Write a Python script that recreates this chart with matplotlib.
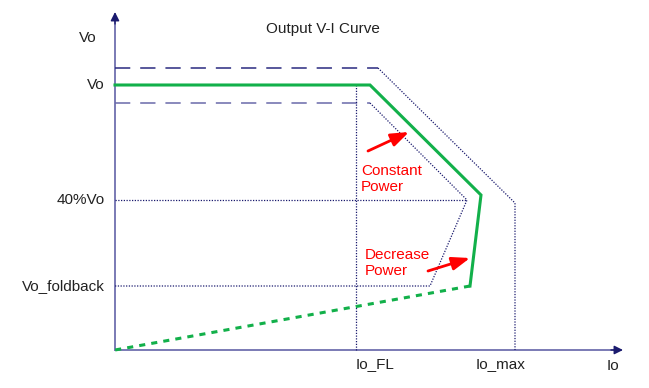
import matplotlib.pyplot as plt

plt.rcParams['font.family'] = ['Liberation Sans', 'DejaVu Sans']

# data (origin at the axes crossing, units ~ pixels)
vo = 265
vo_hi = 282
vo_lo = 247
vo_40 = 150
vo_fb = 64
io_fl = 241
io_max = 400

green_x = [0, 255, 366, 355]
green_y = [vo, vo, 155, vo_fb]
fold_x = [355, 0]
fold_y = [vo_fb, 0]

hi_dash_x = [0, 263]
hi_dot_x = [263, io_max, io_max]
hi_dot_y = [vo_hi, 147, 0]

lo_dash_x = [0, 255]
lo_dot_x = [255, 352, 315, 0]
lo_dot_y = [vo_lo, vo_40, vo_fb, vo_fb]

y_ticks = [vo, vo_40, vo_fb]
y_labels = ['Vo', '40%Vo', 'Vo_foldback']
x_ticks = [241, 361]
x_labels = ['Io_FL', 'Io_max']

fig = plt.figure(figsize=(6.49, 3.88), dpi=100)
ax = fig.add_axes([0, 0, 1, 1])
ax.set_xlim(-115, 534)
ax.set_ylim(-38, 350)
ax.axis('off')

navy = '#1a1a6e'
fs = 11
tc = '#222222'
dot = (0, (1, 1.2))

# axes with arrows
ax.plot([0, 0], [0, 330], color='#7a7ab4', lw=1.4)
ax.plot([0, 500], [0, 0], color='#7a7ab4', lw=1.4)
ax.annotate('', xy=(0, 338), xytext=(0, 326),
            arrowprops=dict(arrowstyle='-|>', color=navy, lw=1,
                            mutation_scale=13, shrinkA=0, shrinkB=0))
ax.annotate('', xy=(508, 0), xytext=(496, 0),
            arrowprops=dict(arrowstyle='-|>', color=navy, lw=1,
                            mutation_scale=13, shrinkA=0, shrinkB=0))

# reference lines
ax.plot(hi_dash_x, [vo_hi, vo_hi], color='#2a2a80', lw=1.1, ls=(0, (10, 6.5)))
ax.plot(hi_dot_x, hi_dot_y, color=navy, lw=0.9, ls=dot)
ax.plot(lo_dash_x, [vo_lo, vo_lo], color='#6a6aaa', lw=1.1, ls=(0, (10, 6.5)))
ax.plot(lo_dot_x, lo_dot_y, color=navy, lw=0.9, ls=dot)
ax.plot([0, 352], [vo_40, vo_40], color=navy, lw=0.9, ls=dot)
ax.plot([io_fl, io_fl], [0, vo], color=navy, lw=0.9, ls=dot)

# output curve
ax.plot(green_x, green_y, color='#12b04a', lw=2.2, solid_joinstyle='miter')
ax.plot(fold_x, fold_y, color='#12b04a', lw=2.2, ls=(0, (2, 2)))

# labels
for y, t in zip(y_ticks, y_labels):
    ax.text(-10, y, t, ha='right', va='center', fontsize=fs, color=tc)
ax.text(-27, 312, 'Vo', ha='center', va='center', fontsize=fs, color=tc)
for x, t in zip(x_ticks, x_labels):
    ax.text(x, -14, t, ha='left', va='center', fontsize=fs, color=tc)
ax.text(498, -16, 'Io', ha='center', va='center', fontsize=fs, color=tc)
ax.text(208, 321, 'Output V-I Curve', ha='center', va='center', fontsize=fs,
        color=tc)

# annotations
red_arrow = dict(arrowstyle='-|>,head_length=0.6,head_width=0.22', color='red',
                 lw=2, mutation_scale=18, shrinkA=0, shrinkB=0)
ax.annotate('', xy=(294, 218), xytext=(253, 199), arrowprops=red_arrow)
ax.text(246, 171, 'Constant\nPower', ha='left', va='center', fontsize=fs,
        color='red', linespacing=1.25)
ax.annotate('', xy=(355, 92), xytext=(313, 79), arrowprops=red_arrow)
ax.text(250, 87, 'Decrease\nPower', ha='left', va='center', fontsize=fs,
        color='red', linespacing=1.25)

fig.savefig('out.png', dpi=100)
